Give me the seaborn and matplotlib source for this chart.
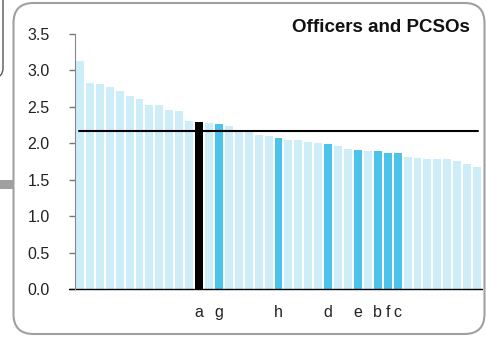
import seaborn as sns
import matplotlib.pyplot as plt
import matplotlib.transforms as mtransforms
from matplotlib.patches import FancyBboxPatch, Rectangle
import pandas as pd

# bar heights, sorted high to low (41 forces)
values = [3.13, 2.83, 2.82, 2.78, 2.72, 2.65, 2.61, 2.53, 2.53, 2.46,
          2.45, 2.31, 2.30, 2.28, 2.26, 2.24, 2.18, 2.15, 2.11, 2.10,
          2.07, 2.05, 2.04, 2.02, 2.01, 1.99, 1.96, 1.92, 1.91, 1.90,
          1.89, 1.87, 1.87, 1.82, 1.80, 1.79, 1.79, 1.78, 1.76, 1.72,
          1.68]
# labelled bars: position -> letter
labels = {12: "a", 14: "g", 20: "h", 25: "d", 28: "e", 30: "b", 31: "f", 32: "c"}
selected = "a"
average = 2.17
title = "Officers and PCSOs"

light = "#cdedf9"
blue = "#4cc3eb"
black = "#000000"

kinds = []
for i in range(len(values)):
    if labels.get(i) == selected:
        kinds.append("sel")
    elif i in labels:
        kinds.append("other")
    else:
        kinds.append("rest")
df = pd.DataFrame({"pos": range(len(values)), "value": values, "kind": kinds})

sns.set_style("ticks")
plt.rcParams["font.family"] = ["Liberation Sans", "DejaVu Sans"]

fig = plt.figure(figsize=(4.86, 3.37), dpi=100)
ax = fig.add_axes([75 / 486, 1 - 289.3 / 337, 407 / 486, (289.3 - 34) / 337])

sns.barplot(data=df, x="pos", y="value", hue="kind",
            palette={"sel": black, "other": blue, "rest": light},
            order=list(range(len(values))), dodge=False, legend=False,
            width=0.8, saturation=1, linewidth=0, ax=ax)

ax.axhline(average, xmin=0.01, xmax=0.99, color="black", lw=1.5)

ax.set_ylim(0, 3.5)
ax.set_xlim(-0.5, len(values) - 0.5)
ax.set_yticks([0, 0.5, 1.0, 1.5, 2.0, 2.5, 3.0, 3.5])
ax.set_yticklabels(["0.0", "0.5", "1.0", "1.5", "2.0", "2.5", "3.0", "3.5"])
ax.set_xticks(list(labels.keys()))
ax.set_xticklabels(list(labels.values()))
ax.tick_params(axis="x", length=0, pad=11, labelsize=11.5, colors="#222222")
ax.tick_params(axis="y", length=4.3, width=1, color="#777777", pad=14,
               labelsize=11.5, labelcolor="#222222")
ax.set_xlabel("")
ax.set_ylabel("")

for s in ["top", "right"]:
    ax.spines[s].set_visible(False)
ax.spines["left"].set_color("#888888")
ax.spines["bottom"].set_visible(False)
ax.axhline(0, xmin=-0.015, xmax=1.0, color="black", lw=1, clip_on=False)

ax.text(0.97, 1.024, title, transform=ax.transAxes, ha="right", va="center",
        fontsize=13.5, fontweight="bold", color="#111111")

# rounded panel frame (pixel coordinates)
ident = mtransforms.IdentityTransform()
frame = FancyBboxPatch((13.5, 337 - 334), 471, 331,
                       boxstyle="round,pad=0,rounding_size=20",
                       transform=ident, fill=False, edgecolor="#a0a0a0",
                       lw=1.5, zorder=-1)
fig.patches.append(frame)
# edge of the neighbouring panel
nb = FancyBboxPatch((-60, 337 - 78), 63, 120,
                    boxstyle="round,pad=0,rounding_size=10",
                    transform=ident, fill=False, edgecolor="#555555",
                    lw=1, zorder=-1)
fig.patches.append(nb)
fig.patches.append(Rectangle((0, 337 - 189), 13, 9, transform=ident,
                             facecolor="#a0a0a0", edgecolor="none"))

fig.savefig("out.png", dpi=100)
